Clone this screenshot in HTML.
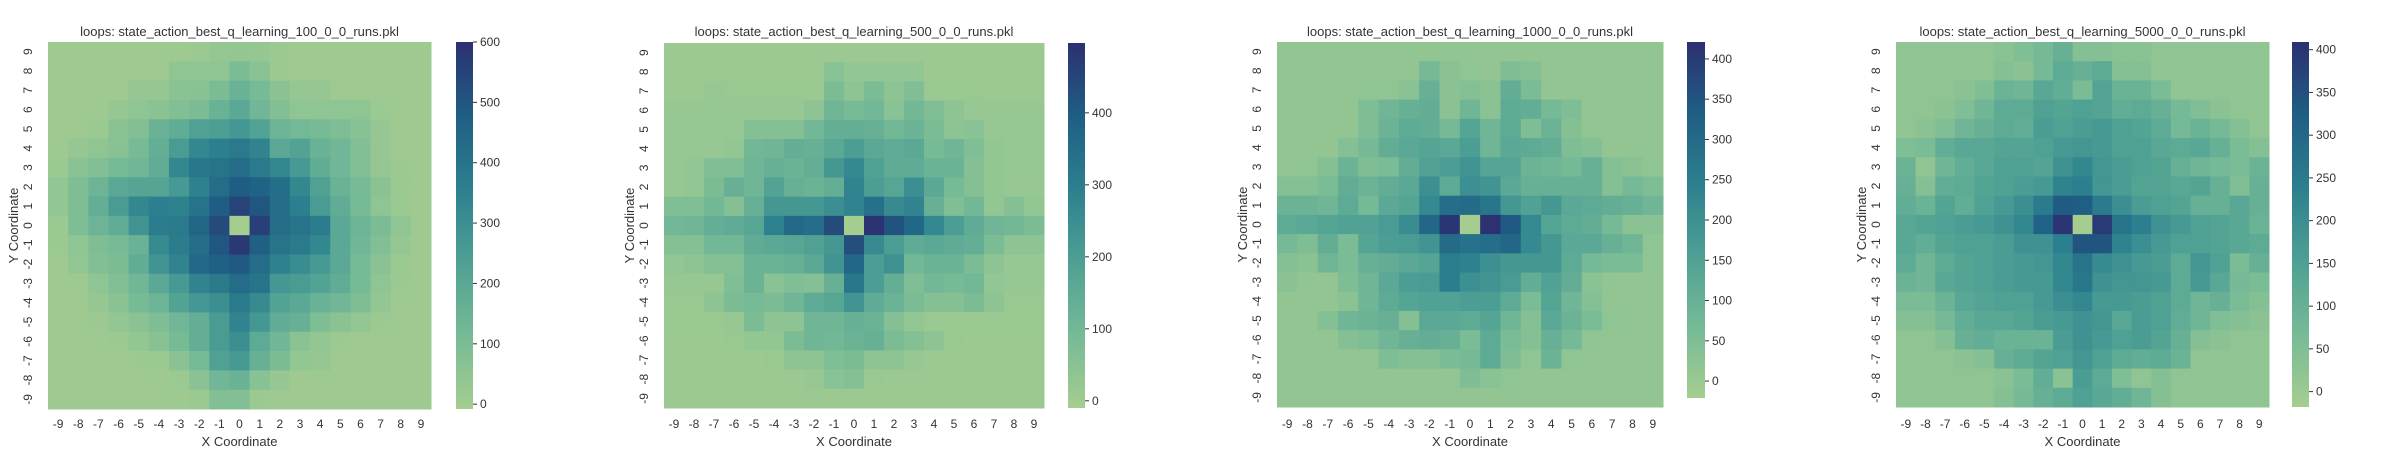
<!DOCTYPE html>
<html><head><meta charset="utf-8">
<style>
html,body{margin:0;padding:0;background:#fff;}
svg{display:block;font-family:"Liberation Sans",Arial,sans-serif;}
</style></head>
<body>
<svg id="chart" width="2400" height="454" viewBox="0 0 2400 454" xmlns="http://www.w3.org/2000/svg">
<defs>
<linearGradient id="crest" x1="0" y1="1" x2="0" y2="0">
<stop offset="0" stop-color="rgb(165,205,144)"/>
<stop offset="0.2" stop-color="rgb(118,186,150)"/>
<stop offset="0.4" stop-color="rgb(78,160,148)"/>
<stop offset="0.6" stop-color="rgb(44,128,142)"/>
<stop offset="0.8" stop-color="rgb(31,94,132)"/>
<stop offset="1" stop-color="rgb(44,48,113)"/>
</linearGradient>
</defs>
</svg>
<script>
const xCategories = [-9,-8,-7,-6,-5,-4,-3,-2,-1,0,1,2,3,4,5,6,7,8,9];
const yCategories = [9,8,7,6,5,4,3,2,1,0,-1,-2,-3,-4,-5,-6,-7,-8,-9];
const titles = ["loops: state_action_best_q_learning_100_0_0_runs.pkl","loops: state_action_best_q_learning_500_0_0_runs.pkl","loops: state_action_best_q_learning_1000_0_0_runs.pkl","loops: state_action_best_q_learning_5000_0_0_runs.pkl"];
const vmins = [-8,-10,-21,-18];
const vmaxs = [600,497,421,409];
const cbTicks1 = [0,100,200,300,400,500,600];
const cbTicks2 = [0,100,200,300,400];
const cbTicks3 = [0,50,100,150,200,250,300,350,400];
const cbTicks4 = [0,50,100,150,200,250,300,350,400];
const runs100 = [
[10,10,10,10,10,10,10,15,30,35,30,15,10,10,10,10,10,10,10],
[10,10,10,10,10,10,50,50,50,100,60,15,10,10,10,10,10,10,10],
[10,10,10,10,30,30,60,70,100,150,110,60,30,30,10,10,10,10,10],
[10,10,10,30,50,60,80,100,150,200,130,80,50,50,50,50,20,10,10],
[10,10,20,60,80,150,180,230,240,270,220,140,120,110,90,70,30,10,10],
[10,30,50,70,110,170,250,330,360,380,340,200,220,150,130,80,30,10,10],
[20,60,80,110,130,180,330,390,400,430,380,330,260,180,130,80,30,15,10],
[40,90,140,200,210,210,260,350,430,480,460,420,330,230,150,110,60,20,10],
[40,90,170,250,330,360,350,400,480,550,500,420,360,250,180,110,50,20,10],
[20,90,140,180,280,370,380,450,530,-8,560,430,400,370,200,140,100,50,10],
[20,50,90,110,150,320,370,420,500,580,470,400,380,330,200,130,80,30,10],
[10,40,80,100,180,280,340,440,470,490,430,350,310,260,200,110,60,20,10],
[10,10,50,80,130,200,260,340,380,430,400,270,250,220,180,110,50,15,10],
[10,10,30,60,110,140,220,270,300,380,320,220,200,150,130,90,40,10,10],
[10,10,15,40,60,90,130,170,250,340,270,180,160,90,60,40,15,10,10],
[10,10,10,15,40,70,110,170,250,300,190,130,60,40,15,10,10,10,10],
[10,10,10,10,15,20,60,110,230,260,160,100,40,30,10,10,10,10,10],
[10,10,10,10,10,10,20,60,130,150,70,30,10,10,10,10,10,10,10],
[10,10,10,10,10,10,10,20,80,80,20,10,10,10,10,10,10,10,10]];
const runs500 = [
[10,10,10,10,10,10,10,10,10,10,10,10,10,10,10,10,10,10,10],
[10,10,10,10,10,10,10,10,50,30,30,30,30,10,10,10,10,10,10],
[10,10,20,15,15,15,15,15,80,40,80,40,70,15,15,15,10,10,10],
[20,20,20,20,20,20,20,40,110,90,100,50,100,70,40,20,20,20,20],
[20,20,20,20,60,60,60,100,140,140,130,100,120,80,40,50,20,20,20],
[20,20,20,30,100,110,140,130,160,200,160,150,160,90,110,70,30,20,20],
[20,30,70,70,110,130,120,140,220,270,190,150,150,120,120,60,30,20,20],
[20,30,80,130,110,180,130,120,140,280,200,170,250,160,90,60,30,20,20],
[70,70,100,60,130,220,220,220,250,280,340,260,280,130,70,100,30,60,30],
[100,110,140,150,170,290,360,350,440,-10,490,420,370,270,200,150,110,100,80],
[60,60,100,100,150,160,170,190,220,430,260,200,150,160,150,140,80,40,40],
[30,40,60,60,120,120,130,160,230,370,200,240,100,120,120,80,40,20,20],
[20,20,20,70,120,50,70,60,130,320,200,140,70,100,90,100,30,20,20],
[15,15,40,80,90,80,110,150,170,230,150,120,80,60,60,80,40,15,15],
[15,15,15,20,80,40,40,110,110,130,120,60,30,15,15,15,15,15,15],
[10,10,10,15,30,30,80,110,100,120,130,80,60,40,15,10,10,10,10],
[10,10,10,10,10,15,40,40,70,80,40,40,20,10,10,10,10,10,10],
[10,10,10,10,10,10,10,20,50,60,15,10,10,10,10,10,10,10,10],
[10,10,10,10,10,10,10,10,10,10,10,10,10,10,10,10,10,10,10]];
const runs1000 = [
[15,15,15,15,15,15,15,15,15,15,15,15,15,15,15,15,15,15,15],
[15,15,15,15,15,15,15,70,30,20,15,50,40,15,15,15,15,15,15],
[15,15,15,15,20,20,30,100,30,40,30,110,60,15,15,15,15,15,15],
[15,15,15,15,50,80,100,110,30,80,30,120,110,70,50,15,15,15,15],
[15,15,15,15,50,90,120,110,70,140,80,120,50,90,40,15,15,15,15],
[15,15,15,40,70,110,130,140,130,160,80,130,120,110,50,40,15,15,15],
[15,20,40,90,50,60,110,150,160,190,140,140,90,80,70,100,40,30,20],
[40,40,60,110,90,110,130,200,120,200,190,130,100,100,100,100,40,70,50],
[90,90,80,120,70,130,140,220,290,300,270,180,150,180,130,120,110,100,80],
[120,130,140,150,150,170,210,310,410,-21,420,340,220,140,120,110,70,30,30],
[70,50,110,60,140,160,170,190,300,280,290,310,220,180,130,130,100,80,20],
[40,30,80,60,100,110,130,140,250,240,200,180,180,180,120,70,60,60,20],
[30,15,15,50,80,130,160,170,250,200,190,170,110,150,110,30,15,15,15],
[15,15,15,30,80,120,140,150,150,160,160,120,60,140,80,40,15,15,15],
[15,15,40,80,90,100,40,130,130,120,140,80,40,130,90,60,20,15,15],
[15,15,15,40,50,80,100,110,100,60,120,60,40,100,70,20,15,15,15],
[15,15,15,15,15,50,40,40,60,70,120,50,20,90,20,15,15,15,15],
[15,15,15,15,15,15,15,15,15,50,30,20,15,15,15,15,15,15,15],
[15,15,15,15,15,15,15,15,15,15,15,15,15,15,15,15,15,15,15]];
const runs5000 = [
[20,20,20,20,20,30,50,70,100,40,40,30,30,20,20,20,20,20,20],
[20,20,20,20,20,40,30,70,120,100,120,40,40,20,20,20,20,20,20],
[20,20,20,30,50,90,80,130,110,60,140,90,90,60,20,20,20,20,20],
[20,20,30,50,80,120,120,150,140,150,140,110,120,100,70,50,30,20,20],
[20,30,50,80,100,120,110,160,150,160,170,150,140,120,70,90,70,40,20],
[50,60,110,130,130,140,140,150,170,180,170,150,150,130,120,130,100,60,40],
[90,20,80,110,130,150,150,140,190,220,180,160,150,140,100,80,70,60,90],
[100,40,110,120,140,150,160,170,230,240,180,160,140,140,130,140,100,50,100],
[110,90,140,110,150,170,200,250,330,320,250,200,160,150,140,100,100,130,100],
[130,140,150,160,170,190,220,310,400,-18,390,270,240,190,170,150,140,130,90],
[130,110,140,150,150,160,190,190,240,340,340,230,200,170,150,150,140,130,120],
[120,80,120,140,150,160,170,180,220,270,210,190,170,160,120,180,150,60,100],
[90,80,130,140,150,160,170,170,220,260,190,180,180,170,120,170,130,70,60],
[60,60,90,130,140,150,150,170,200,220,170,170,160,150,120,80,100,60,40],
[40,40,70,110,130,130,140,160,170,190,180,130,160,150,110,80,50,40,30],
[20,20,40,100,110,90,90,90,160,190,170,150,160,140,100,40,30,20,20],
[20,20,20,30,40,100,120,140,150,180,150,120,110,120,90,20,20,20,20],
[20,20,20,20,20,30,60,110,30,160,120,50,20,40,20,20,20,20,20],
[20,20,20,20,20,40,70,100,120,150,130,110,80,40,20,20,20,20,20]];

const matrices = [runs100, runs500, runs1000, runs5000];
const tickSets = [cbTicks1, cbTicks2, cbTicks3, cbTicks4];
const layouts = [
 {hx:48, hw:383, hy:42, hh:367, cbx:456, cbw:17, cby:42, cbh:367},
 {hx:664, hw:380, hy:43, hh:365, cbx:1068, cbw:17, cby:43, cbh:365},
 {hx:1277, hw:386, hy:42, hh:365, cbx:1687, cbw:18, cby:42, cbh:356},
 {hx:1896, hw:373, hy:42, hh:365, cbx:2292, cbw:17, cby:42, cbh:365}
];
const stops = [[0,165,205,144],[0.2,118,186,150],[0.4,78,160,148],[0.6,44,128,142],[0.8,31,94,132],[1,44,48,113]];
function crest(t){
  t=Math.max(0,Math.min(1,t));
  for(let i=1;i<stops.length;i++){
    if(t<=stops[i][0]){
      const a=stops[i-1],b=stops[i],f=(t-a[0])/(b[0]-a[0]);
      return 'rgb('+[1,2,3].map(k=>Math.round(a[k]+(b[k]-a[k])*f)).join(',')+')';
    }
  }
  return 'rgb(44,48,113)';
}
const svg=document.getElementById('chart');
const NS='http://www.w3.org/2000/svg';
function mk(tag,attrs,parent){const e=document.createElementNS(NS,tag);for(const k in attrs)e.setAttribute(k,attrs[k]);parent.appendChild(e);return e;}
const TXT='#333';
matrices.forEach((m,p)=>{
  const L=layouts[p], vmin=vmins[p], vmax=vmaxs[p];
  const g=mk('g',{},svg);
  
  
  const cw=L.hw/xCategories.length, ch=L.hh/yCategories.length;
  const xScale=i=>L.hx+i*cw;
  const yScale=j=>L.hy+j*ch;
  const cScale=v=>L.cby+L.cbh-(v-vmin)/(vmax-vmin)*L.cbh;
  m.forEach((row,j)=>row.forEach((v,i)=>{
    const r=mk('rect',{x:xScale(i),y:yScale(j),width:cw+0.5,height:ch+0.5,fill:crest((v-vmin)/(vmax-vmin))},g);
    
    
  }));
  const t=mk('text',{x:L.hx+L.hw/2,y:36,'text-anchor':'middle','font-size':13,fill:TXT},g);
  t.textContent=titles[p];
  
  
  xCategories.forEach((c,i)=>{
    const tx=mk('text',{x:xScale(i)+cw/2,y:428,'text-anchor':'middle','font-size':12,fill:TXT},g);
    tx.textContent=c;
    
    
  });
  yCategories.forEach((c,j)=>{
    const cx=L.hx-16, cy=yScale(j)+ch/2;
    const ty=mk('text',{x:cx,y:cy,'text-anchor':'middle','font-size':12,fill:TXT,transform:'rotate(-90 '+cx+' '+cy+')'},g);
    ty.textContent=c;
    
    
  });
  const xt=mk('text',{x:L.hx+L.hw/2,y:446,'text-anchor':'middle','font-size':13,fill:TXT},g);
  xt.textContent='X Coordinate';
  
  
  const yx=L.hx-30, yy=L.hy+L.hh/2;
  const yt=mk('text',{x:yx,y:yy,'text-anchor':'middle','font-size':13,fill:TXT,transform:'rotate(-90 '+yx+' '+yy+')'},g);
  yt.textContent='Y Coordinate';
  
  
  const cb=mk('rect',{x:L.cbx,y:L.cby,width:L.cbw,height:L.cbh,fill:'url(#crest)'},g);
  
  
  tickSets[p].forEach(v=>{
    const y=cScale(v);
    const ln=mk('line',{x1:L.cbx+L.cbw,x2:L.cbx+L.cbw+4,y1:y,y2:y,stroke:TXT,'stroke-width':1},g);
    
    
    const lt=mk('text',{x:L.cbx+L.cbw+7,y:y+4,'font-size':12,fill:TXT},g);
    lt.textContent=v;
    
    
  });
});
</script>
</body></html>
